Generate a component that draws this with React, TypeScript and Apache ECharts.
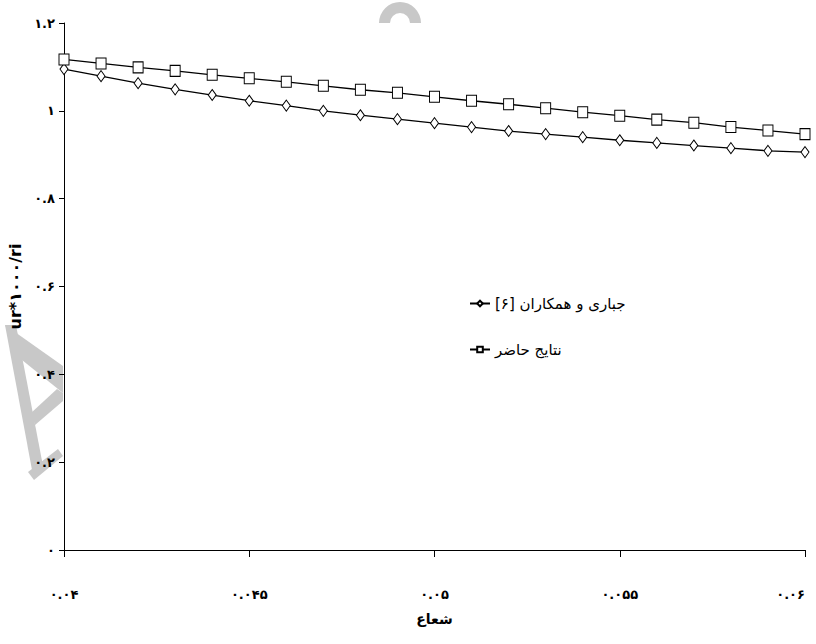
import React, { useEffect, useRef } from "react";
import * as echarts from "echarts";

// radius values (x) and the two computed profiles
const radius = [
  0.04, 0.041, 0.042, 0.043, 0.044, 0.045, 0.046, 0.047, 0.048, 0.049, 0.05,
  0.051, 0.052, 0.053, 0.054, 0.055, 0.056, 0.057, 0.058, 0.059, 0.06,
];
const jabbari = [
  1.095, 1.079, 1.063, 1.049, 1.036, 1.023, 1.012, 1.0, 0.99, 0.981, 0.972,
  0.963, 0.954, 0.947, 0.94, 0.933, 0.927, 0.921, 0.915, 0.909, 0.906,
];
const present = [
  1.117, 1.108, 1.099, 1.091, 1.082, 1.074, 1.066, 1.057, 1.048, 1.041, 1.032,
  1.023, 1.015, 1.006, 0.997, 0.989, 0.98, 0.973, 0.963, 0.955, 0.947,
];

const seriesNames = ["جباری و همکاران [۶]", "نتایج حاضر"];
const xAxisTitle = "شعاع";
const yAxisTitle = "ur*۱۰۰۰/ri";

const xRange = [0.04, 0.06, 0.005];
const yRange = [0, 1.2, 0.2];

const faDigits = "۰۱۲۳۴۵۶۷۸۹";
const toFa = (v: number) =>
  String(Number(v.toFixed(3))).replace(/\d/g, (d) => faDigits[Number(d)]);

const FONT = "'DejaVu Sans', 'Liberation Serif', serif";
const GREY = "#c8c8c8";

export default function App() {
  const ref = useRef<HTMLDivElement>(null);

  useEffect(() => {
    document.body.style.margin = "0";
    if (!ref.current) return;
    const chart = echarts.init(ref.current, undefined, { renderer: "svg" });

    const axisLine = { show: true, lineStyle: { color: "#000", width: 1 } };

    chart.setOption({
      animation: false,
      backgroundColor: "#fff",
      grid: {
        left: 64,
        right: 11,
        top: 23,
        bottom: 94,
        containLabel: false,
        outerBoundsMode: "none",
      },
      graphic: [
        // faint grey letterform in the background
        {
          type: "polygon",
          z: -10,
          silent: true,
          shape: { points: [[5, 325], [16, 325], [43, 466], [32, 470]] },
          style: { fill: GREY },
        },
        {
          type: "polygon",
          z: -10,
          silent: true,
          shape: {
            points: [[5, 325], [63, 366], [63, 393], [22, 360], [14, 345]],
          },
          style: { fill: GREY },
        },
        {
          type: "polygon",
          z: -10,
          silent: true,
          shape: {
            points: [[57, 389], [63, 393], [63, 401], [35, 425], [31, 413]],
          },
          style: { fill: GREY },
        },
        {
          type: "polygon",
          z: -10,
          silent: true,
          shape: { points: [[28, 472], [58, 449], [63, 456], [34, 480]] },
          style: { fill: GREY },
        },
        {
          type: "sector",
          z: -10,
          silent: true,
          shape: {
            cx: 400,
            cy: 23,
            r: 21,
            r0: 10,
            startAngle: Math.PI,
            endAngle: Math.PI * 2,
          },
          style: { fill: GREY },
        },
      ],
      legend: {
        orient: "vertical",
        left: 464,
        top: 291,
        itemGap: 31,
        itemWidth: 20,
        itemHeight: 7,
        textStyle: { color: "#000", fontSize: 15, fontFamily: FONT },
        data: seriesNames,
      },
      xAxis: {
        type: "value",
        min: xRange[0],
        max: xRange[1],
        interval: xRange[2],
        name: xAxisTitle,
        nameLocation: "middle",
        nameGap: 62,
        nameTextStyle: {
          color: "#000",
          fontSize: 14,
          fontWeight: "bold",
          fontFamily: FONT,
        },
        axisLine,
        axisTick: { show: true, length: 7, lineStyle: { color: "#000" } },
        splitLine: { show: false },
        axisLabel: {
          color: "#000",
          fontSize: 13,
          fontWeight: "bold",
          fontFamily: FONT,
          margin: 38,
          alignMaxLabel: "right",
          formatter: (v: number) => toFa(v),
        },
      },
      yAxis: {
        type: "value",
        min: yRange[0],
        max: yRange[1],
        interval: yRange[2],
        name: yAxisTitle,
        nameLocation: "middle",
        nameGap: 34,
        nameTextStyle: {
          color: "#000",
          fontSize: 16,
          fontWeight: "bold",
          fontFamily: FONT,
        },
        axisLine,
        axisTick: { show: true, length: 5, lineStyle: { color: "#000" } },
        splitLine: { show: false },
        axisLabel: {
          color: "#000",
          fontSize: 13,
          fontWeight: "bold",
          fontFamily: FONT,
          margin: 9,
          formatter: (v: number) => toFa(v),
        },
      },
      series: [
        {
          name: seriesNames[0],
          type: "line",
          data: radius.map((r, i) => [r, jabbari[i]]),
          symbol: "diamond",
          symbolSize: [8, 11],
          lineStyle: { color: "#000", width: 1.3 },
          itemStyle: { color: "#fff", borderColor: "#000", borderWidth: 1 },
        },
        {
          name: seriesNames[1],
          type: "line",
          data: radius.map((r, i) => [r, present[i]]),
          symbol: "rect",
          symbolSize: [10, 11],
          lineStyle: { color: "#000", width: 1.3 },
          itemStyle: { color: "#fff", borderColor: "#000", borderWidth: 1 },
        },
      ],
    });

    return () => chart.dispose();
  }, []);

  return <div ref={ref} style={{ width: 816, height: 644 }} />;
}
